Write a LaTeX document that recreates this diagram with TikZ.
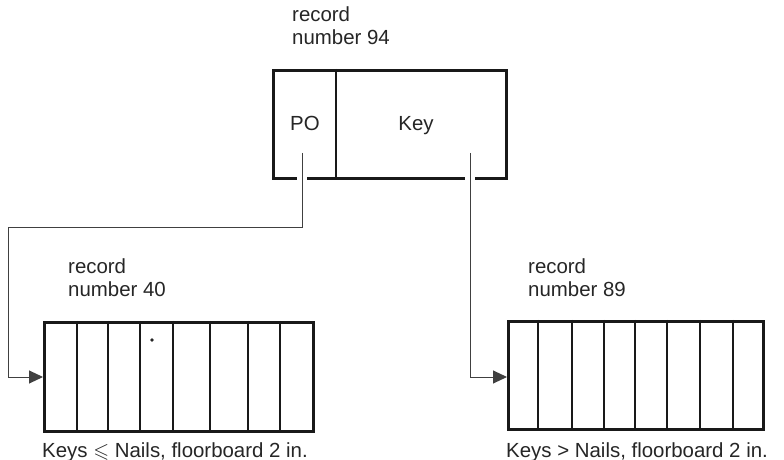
\documentclass[tikz,border=0pt]{standalone}
\usepackage{fontspec}
\usepackage{amssymb}
\setmainfont{Liberation Sans}
\usetikzlibrary{arrows.meta}
\tikzset{
  box/.style={draw=black!90, line width=3.2bp, rectangle, inner sep=0pt},
  divider/.style={draw=black!90, line width=2.6bp},
  link/.style={draw=black!75, line width=1bp},
  tip/.style={-{Triangle[length=14bp,width=13bp]}},
  lbl/.style={font=\fontsize{20.5}{24}\selectfont, text=black!85, inner sep=0pt, align=left},
}
\begin{document}
\begin{tikzpicture}[x=1bp,y=-1bp]
\useasboundingbox[fill=white] (0,0) rectangle (784,460);
% top record
\node[box, minimum width=233bp, minimum height=108bp, anchor=north west] (top) at (272,69) {};
\draw[divider] (336,69) -- (336,177);
\node[lbl, anchor=base] (po) at (305,131) {PO};
\node[lbl, anchor=base] (key) at (416,131) {Key};
\node[lbl, anchor=base west] (t94) at (292,45) {record\\number 94};
% left record
\node[box, minimum width=269bp, minimum height=109bp, anchor=north west] (left) at (43,321) {};
\foreach \x in {77,108,140,173,210,248,280} \draw[divider] (\x,321) -- (\x,430);
\fill[black!85] (152,340) circle (1.8bp);
\node[lbl, anchor=base west] (t40) at (68,297) {record\\number 40};
\node[lbl, anchor=base west] (c40) at (42,457) {Keys $\leqslant$ Nails, floorboard 2 in.};
% right record
\node[box, minimum width=255bp, minimum height=108bp, anchor=north west] (right) at (507,320) {};
\foreach \x in {538,572,604,635,667,700,733} \draw[divider] (\x,320) -- (\x,428);
\node[lbl, anchor=base west] (t89) at (528,297) {record\\number 89};
\node[lbl, anchor=base west] (c89) at (506,457) {Keys > Nails, floorboard 2 in.};
% connectors
\coordinate (poS) at (302,153);
\coordinate (keyS) at (470,153);
\coordinate (bendA) at (302,228);
\coordinate (bendB) at (8,228);
\coordinate (bendC) at (8,377);
\coordinate (bendD) at (470,377);
\fill[white] (297,174) rectangle (307,181);
\fill[white] (465,174) rectangle (475,181);
\draw[link, tip] (poS) -- (bendA) -- (bendB) -- (bendC) -- (bendC -| left.west);
\draw[link, tip] (keyS) -- (bendD) -- (bendD -| right.west);
\end{tikzpicture}
\end{document}
